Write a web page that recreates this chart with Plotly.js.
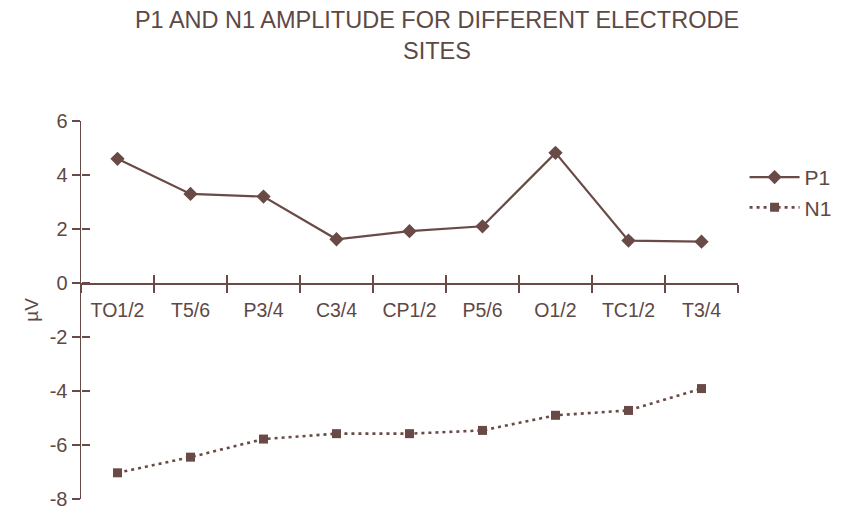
<!DOCTYPE html>
<html>
<head>
<meta charset="utf-8">
<script src="https://cdn.plot.ly/plotly-3.0.1.min.js"></script>
<style>html,body{margin:0;padding:0;background:#fff;}</style>
</head>
<body>
<div id="chart" style="width:841px;height:510px;"></div>
<script>
const sites = ["TO1/2","T5/6","P3/4","C3/4","CP1/2","P5/6","O1/2","TC1/2","T3/4"];
const p1 = [4.6, 3.3, 3.2, 1.62, 1.92, 2.1, 4.82, 1.57, 1.53];
const n1 = [-7.03, -6.45, -5.78, -5.58, -5.58, -5.46, -4.9, -4.72, -3.91];
const yTicks = [-8, -6, -4, -2, 0, 2, 4, 6];
const yTickText = ["-8", "-6", "-4", "-2", "0", "2", "4", "6"];

const col = "#6a4a46";
const txt = "#5e4845";
const font = "Liberation Sans, Arial, sans-serif";
const yMin = -8, yMax = 6;
const zeroPos = (0 - yMin) / (yMax - yMin);

const traces = [
  {x: sites, y: p1, name: "P1", type: "scatter", mode: "lines+markers",
   line: {color: col, width: 2.2}, marker: {symbol: "diamond", size: 11, color: col},
   xaxis: "x", yaxis: "y"},
  {x: sites, y: n1, name: "N1", type: "scatter", mode: "lines+markers",
   line: {color: col, width: 2.6, dash: "3px,4px"}, marker: {symbol: "square", size: 9, color: col},
   xaxis: "x2", yaxis: "y2"}
];

const common = {linecolor: col, linewidth: 1.5, tickcolor: col, tickwidth: 1.5, zeroline: false, showgrid: false};

const layout = {
  width: 841, height: 510,
  margin: {l: 80.5, r: 102.5, t: 121, b: 11, autoexpand: false},
  paper_bgcolor: "#fff", plot_bgcolor: "rgba(0,0,0,0)",
  font: {family: font, color: txt, size: 19},
  title: {text: "P1 AND N1 AMPLITUDE FOR DIFFERENT ELECTRODE<br>SITES",
          font: {family: font, size: 23.5, color: txt}, x: 437/841, xref: "container", xanchor: "center",
          yref: "container", y: 1 - 28/510, yanchor: "top"},
  showlegend: true,
  legend: {x: 1.01, xanchor: "left", y: 0.905, yanchor: "top", font: {size: 21, color: txt},
           bgcolor: "rgba(0,0,0,0)", tracegroupgap: 6, itemwidth: 50},
  xaxis: Object.assign({}, common, {type: "category", categoryorder: "array", categoryarray: sites,
    range: [-0.5, 8.5], showline: true, ticks: "outside", ticklen: 8, tickson: "boundaries",
    anchor: "free", position: zeroPos, tickfont: {size: 19.5, color: txt}, ticklabelstandoff: 9}),
  xaxis2: Object.assign({}, common, {type: "category", categoryorder: "array", categoryarray: sites,
    range: [-0.5, 8.5], overlaying: "x", showline: false, ticks: "inside", ticklen: 8, tickson: "boundaries",
    anchor: "free", position: zeroPos, showticklabels: false}),
  yaxis: Object.assign({}, common, {range: [yMin, yMax], tickvals: yTicks, ticktext: yTickText, showline: true,
    ticks: "outside", ticklen: 8, tickfont: {size: 20, color: txt},
    title: {text: "µV", font: {size: 19, color: txt}, standoff: 6}}),
  yaxis2: Object.assign({}, common, {range: [yMin, yMax], tickvals: yTicks, overlaying: "y",
    anchor: "free", position: 0, showline: false, ticks: "inside", ticklen: 8, showticklabels: false})
};

Plotly.newPlot("chart", traces, layout, {displayModeBar: false, staticPlot: true});
</script>
</body>
</html>
